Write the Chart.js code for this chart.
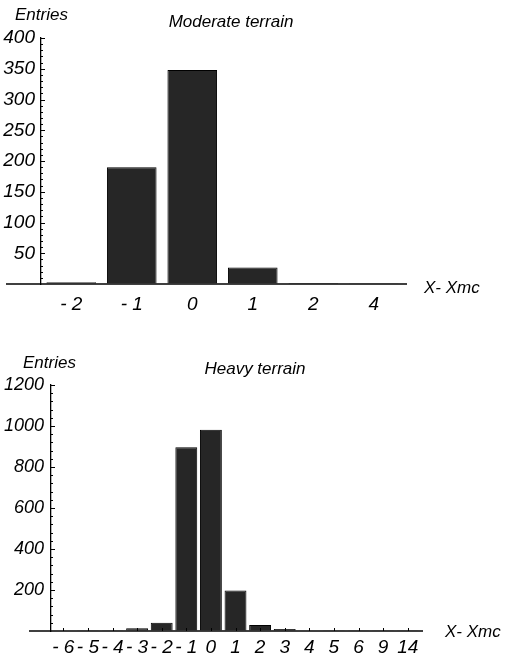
<!DOCTYPE html>
<html>
<head>
<meta charset="utf-8">
<script src="https://cdn.jsdelivr.net/npm/chart.js@4.4.1/dist/chart.umd.min.js"></script>
<style>
  body { margin: 0; background: #fff; }
  .box { position: absolute; left: 0; width: 507px; }
  #box-moderate { top: 0; height: 320px; }
  #box-heavy { top: 330px; height: 328px; }
</style>
</head>
<body>
<div class="box" id="box-moderate"><canvas id="moderate"></canvas></div>
<div class="box" id="box-heavy"><canvas id="heavy"></canvas></div>
<script>
// Moderate terrain histogram
const moderateBins = ['- 2', '- 1', '0', '1', '2', '4'];
const moderateEntries = [3, 190, 348, 27, 1.5, 0.5];
const moderateMax = 400, moderateStep = 50, moderateMinor = 10;

// Heavy terrain histogram
const heavyBins = ['- 6', '- 5', '- 4', '- 3', '- 2', '- 1', '0', '1', '2', '3', '4', '5', '6', '9', '14'];
const heavyEntries = [2, 1, 1, 13, 40, 896, 982, 197, 29, 10, 2, 1, 1, 1, 1];
const heavyMax = 1200, heavyStep = 200, heavyMinor = 40;

const FONT = '"Liberation Sans", Arial, sans-serif';

// axis line, minor ticks and the free-floating labels
function decor(o) {
  return {
    id: 'decor',
    afterDraw(chart) {
      const { ctx, chartArea, scales: { x, y } } = chart;
      const base = y.getPixelForValue(0);
      ctx.save();
      ctx.strokeStyle = '#000';
      ctx.lineWidth = 1.3;
      ctx.beginPath();
      ctx.moveTo(o.axisFrom, base);
      ctx.lineTo(chartArea.right + 3, base);
      ctx.stroke();

      // minor ticks on the y axis (inside)
      ctx.lineWidth = 1;
      ctx.beginPath();
      for (let v = o.minor; v <= o.max; v += o.minor) {
        const py = Math.round(y.getPixelForValue(v)) + 0.5;
        ctx.moveTo(chartArea.left, py);
        ctx.lineTo(chartArea.left + (v % o.step === 0 ? 4 : 2), py);
      }
      ctx.stroke();

      if (o.xTicks) {
        ctx.beginPath();
        x.ticks.forEach((t, i) => {
          const px = Math.round(x.getPixelForTick(i)) + 0.5;
          ctx.moveTo(px, base);
          ctx.lineTo(px, base - 3);
        });
        ctx.stroke();
      }

      ctx.fillStyle = '#000';
      ctx.textBaseline = 'middle';
      ctx.font = 'italic 17px ' + FONT;
      ctx.textAlign = 'left';
      ctx.fillText('Entries', o.entriesX, o.entriesY);
      ctx.font = 'italic 17px ' + FONT;
      ctx.textAlign = 'center';
      ctx.fillText(o.title, o.titleX, o.titleY);
      ctx.textAlign = 'left';
      ctx.fillText('X- Xmc', o.xLabelX, o.xLabelY);
      ctx.restore();
    }
  };
}

function histogram(canvasId, bins, entries, cfg) {
  const ctx = document.getElementById(canvasId);
  return new Chart(ctx, {
    type: 'bar',
    data: {
      labels: bins,
      datasets: [{
        data: entries,
        backgroundColor: '#262626',
        borderColor: '#000',
        borderWidth: 1,
        barPercentage: cfg.barPct,
        categoryPercentage: 1
      }]
    },
    options: {
      responsive: true, maintainAspectRatio: false, animation: false,
      layout: { padding: cfg.padding },
      plugins: { legend: { display: false }, tooltip: { enabled: false } },
      scales: {
        x: {
          grid: { display: false, drawTicks: false },
          border: { display: false },
          ticks: {
            autoSkip: false, maxRotation: 0, padding: cfg.xPad,
            color: '#000', font: { family: FONT, size: 19, style: 'italic' }
          },
          afterFit: s => { s.height = cfg.xHeight; }
        },
        y: {
          min: 0, max: cfg.max,
          grid: { drawOnChartArea: false, drawTicks: false },
          border: { color: '#000', width: 1.3 },
          ticks: {
            stepSize: cfg.step, padding: cfg.yPad,
            callback: v => v === 0 ? '' : v,
            color: '#000', font: { family: FONT, size: cfg.yFont, style: 'italic' }
          },
          afterFit: s => { s.width = cfg.yWidth; }
        }
      }
    },
    plugins: [decor(cfg.decor)]
  });
}

histogram('moderate', moderateBins, moderateEntries, {
  max: moderateMax, step: moderateStep, barPct: 0.82,
  padding: { left: 0, right: 103, top: 38, bottom: 0 },
  xHeight: 36, yWidth: 41, xPad: 9, yPad: 6, yFont: 19,
  decor: {
    axisFrom: 6, max: moderateMax, step: moderateStep, minor: moderateMinor, xTicks: false,
    title: 'Moderate terrain', titleX: 231, titleY: 22,
    entriesX: 15, entriesY: 15, xLabelX: 424, xLabelY: 288
  }
});

histogram('heavy', heavyBins, heavyEntries, {
  max: heavyMax, step: heavyStep, barPct: 0.89,
  padding: { left: 0, right: 87, top: 55, bottom: 0 },
  xHeight: 27, yWidth: 51, xPad: 5, yPad: 7, yFont: 18,
  decor: {
    axisFrom: 29, max: heavyMax, step: heavyStep, minor: heavyMinor, xTicks: true,
    title: 'Heavy terrain', titleX: 255, titleY: 39,
    entriesX: 23, entriesY: 33, xLabelX: 445, xLabelY: 302
  }
});
</script>
</body>
</html>
